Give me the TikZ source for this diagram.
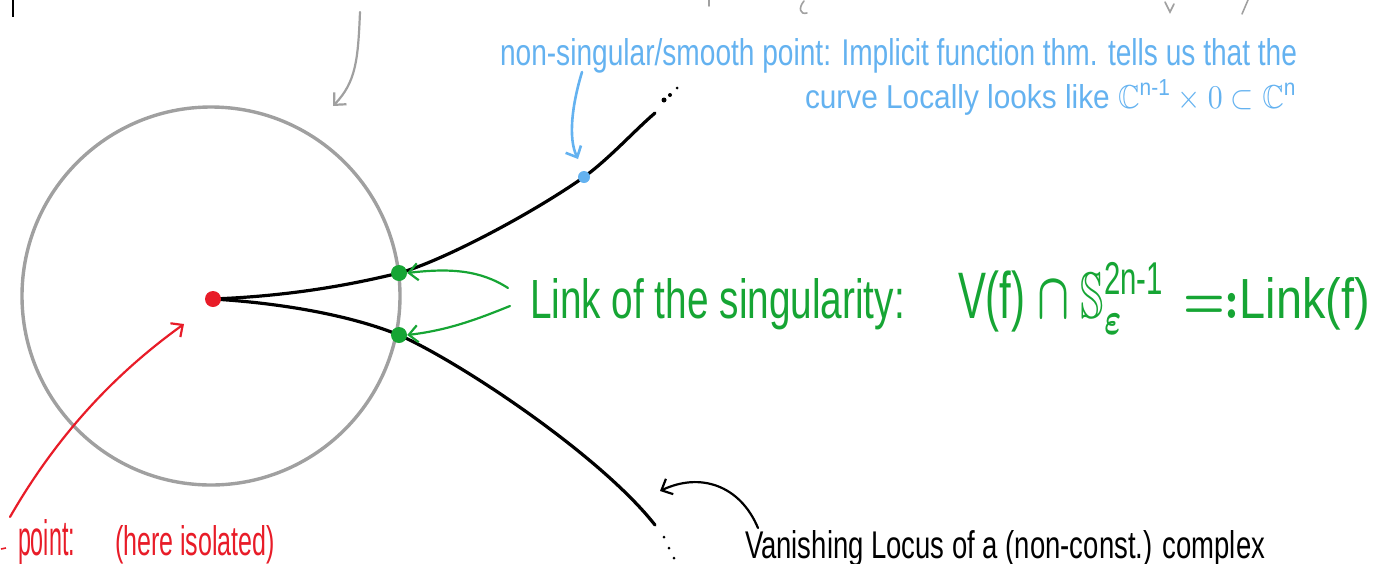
\documentclass[tikz,border=0pt]{standalone}
\usepackage{amsmath,amssymb}
\usepackage{fontspec}
\setmainfont{Liberation Sans}
\usetikzlibrary{arrows.meta}
\definecolor{hblue}{RGB}{100,178,240}
\definecolor{hgreen}{RGB}{22,165,52}
\definecolor{hred}{RGB}{232,28,40}
\definecolor{hgray}{RGB}{160,160,160}
\newcommand{\hwtext}[3]{\resizebox{#1pt}{#2pt}{#3}}
\tikzset{
  txt/.style={anchor=base west, inner sep=0pt, outer sep=0pt},
  curve/.style={black, line width=3.2pt, line cap=round},
  arr/.style={line width=#1, line cap=round, -{Straight Barb[length=9pt,width=17pt,line width=#1]}},
  arr/.default=2.2pt,
  dotnode/.style={circle, fill=#1, inner sep=0pt, minimum size=16pt},
  smalldot/.style={circle, fill=black, inner sep=0pt, minimum size=#1},
}
\begin{document}
\begin{tikzpicture}[x=1pt,y=-1pt]
\useasboundingbox (0,0) rectangle (1373,563);

% sphere
\node[draw=hgray, line width=3.4pt, circle, minimum size=378pt, inner sep=0pt] (sphere) at (211,296) {};

% curve points
\coordinate (endU) at (655,113);
\coordinate (endL) at (655,525);

\draw[curve] (213,299) .. controls (290,296) and (350,285) .. (399,273)
  .. controls (440,262) and (530,215) .. (584,177)
  .. controls (610,158) and (635,130) .. (endU);
\draw[curve] (213,299) .. controls (280,303) and (350,315) .. (399,335)
  .. controls (460,362) and (600,455) .. (endL);

% trailing dots
\node[smalldot=5pt] (du1) at (664,100) {};
\node[smalldot=4pt] (du2) at (670,95) {};
\node[smalldot=3pt] (du3) at (677,88) {};
\node[smalldot=3pt] (dl1) at (664,537) {};
\node[smalldot=3pt] (dl2) at (669,548) {};
\node[smalldot=3pt] (dl3) at (674,558) {};

% marked points
\node[dotnode=hred] (sing) at (213,299) {};
\node[dotnode=hgreen] (gU) at (399,273) {};
\node[dotnode=hgreen] (gL) at (399,335) {};
\node[dotnode=hblue, minimum size=12pt] (smooth) at (584,177) {};

% texts
\node[txt, text=hblue] (blue1) at (500,65) {\hwtext{797}{27}{non-singular/smooth point: Implicit function thm. tells us that the}};
\node[txt, text=hblue] (blue2) at (805,108) {\hwtext{492}{28}{curve Locally looks like $\mathbb{C}^{\text{n-1}}\times 0\subset\mathbb{C}^{\text{n}}$}};

\node[txt, text=hgreen] (green1) at (530,318) {\hwtext{375}{40}{Link of the singularity:}};
\node[txt, text=hgreen] (green2) at (958,318) {\hwtext{207}{56}{V(f) $\boldsymbol{\cap}$ $\mathbb{S}^{\text{2n-1}}_{\boldsymbol{\varepsilon}}$}};
\node[txt, text=hgreen] (green3) at (1183,318) {\hwtext{187}{41}{$\boldsymbol{=:}$Link(f)}};

\node[txt, text=hred] (red1) at (18,555) {\hwtext{57}{36}{point:}};
\node[txt, text=hred] (red2) at (115,555) {\hwtext{160}{30}{(here isolated)}};

\node[txt, text=black] (black1) at (745,558) {\hwtext{520}{28}{Vanishing Locus of a (non-const.) complex}};

% arrows
\coordinate (grayS) at (360,12);
\coordinate (grayT) at (333,106);
\draw[arr, hgray] (grayS) .. controls (358,60) and (356,82) .. (grayT);

\coordinate (blueS) at (582,72);
\coordinate (blueT) at (578,159);
\draw[arr=2.6pt, hblue] (blueS) .. controls (572,105) and (568,138) .. (blueT);

\coordinate (gS1) at (508,288);
\coordinate (gS2) at (510,306);
\draw[arr, hgreen] (gS1) .. controls (480,270) and (450,268) .. (gU.east);
\draw[arr, hgreen] (gS2) .. controls (480,318) and (450,330) .. (gL.east);

\coordinate (redS) at (10,517);
\draw[arr, hred] (redS) .. controls (60,430) and (120,370) .. (184,324);

\coordinate (blkS) at (758,528);
\coordinate (blkT) at (660,491);
\draw[arr, black] (blkS) .. controls (740,485) and (700,472) .. (blkT);

% fragments of cut-off text at the top
\draw[black, line width=1.8pt] (13,0) -- (13,17);
\draw[hgray, line width=1.6pt, line cap=round] (709,0) -- (709,6);
\draw[hgray, line width=1.6pt, line cap=round] (804,1) .. controls (798,8) and (800,15) .. (807,13);
\draw[hgray, line width=1.6pt, line cap=round] (1165,2) -- (1170,12) -- (1174,4);
\draw[hgray, line width=1.6pt, line cap=round] (1248,0) -- (1242,14);
\draw[hred, line width=1.6pt] (1,549) -- (6,548);
\end{tikzpicture}
\end{document}
